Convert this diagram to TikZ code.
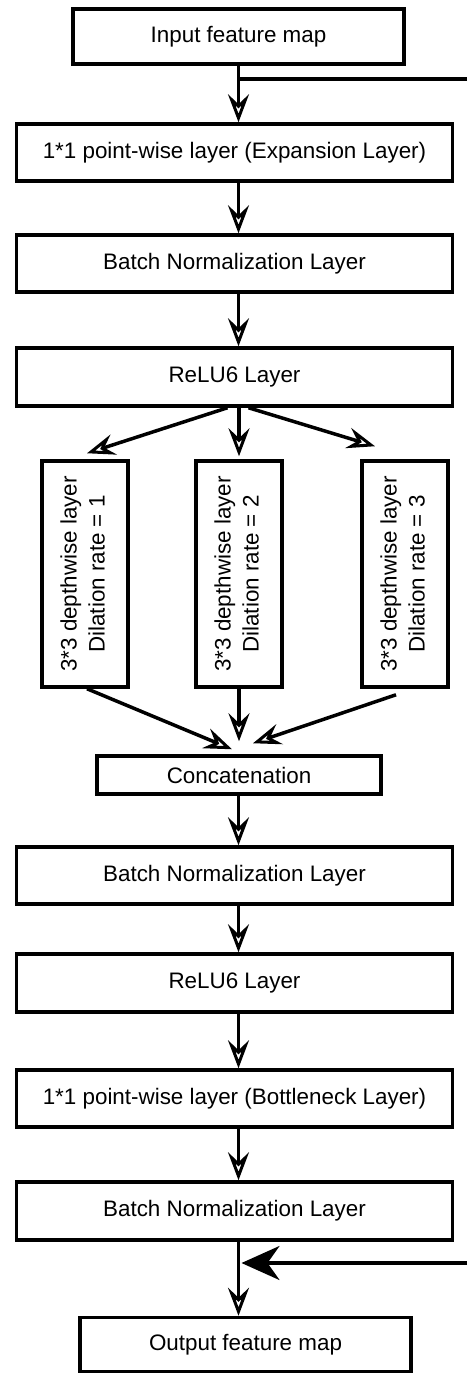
\documentclass[tikz,border=0pt]{standalone}
\usepackage{fontspec}
\setmainfont{Liberation Sans}
\usetikzlibrary{arrows.meta}

\tikzset{
    layer_box/.style={draw, line width=3.5pt, minimum height=55pt, inner sep=0pt,
        font=\fontsize{22.4}{28}\selectfont},
    branch_box/.style={layer_box, minimum width=86pt, minimum height=226pt},
    flow_arr/.style={line width=3.5pt,
        -{Stealth[open, length=28pt, width=21pt, inset=10pt, line width=3pt]}},
    skip_arr/.style={line width=3.5pt,
        -{Stealth[length=38pt, width=34pt, inset=12pt]}}
}

\begin{document}
\begin{tikzpicture}[x=1pt, y=1pt]

    \useasboundingbox (0,0) rectangle (467,-1374);

    % Input and first layers
    \node[layer_box, minimum width=331pt] (in_box) at (238.5,-36.5) {Input feature map};
    \node[layer_box, minimum width=436pt, minimum height=57pt] (exp_box) at (234.5,-152.5)
        {1*1 point-wise layer (Expansion Layer)};
    \node[layer_box, minimum width=436pt, minimum height=57pt] (bn1_box) at (234.5,-263.5)
        {Batch Normalization Layer};
    \node[layer_box, minimum width=436pt, minimum height=58pt] (relu1_box) at (234.5,-377)
        {ReLU6 Layer};

    % Depthwise branches
    \node[branch_box] (dw1_box) at (85,-574) {\rotatebox{90}{\begin{tabular}{c}3*3 depthwise layer\\Dilation rate = 1\end{tabular}}};
    \node[branch_box] (dw2_box) at (239,-574) {\rotatebox{90}{\begin{tabular}{c}3*3 depthwise layer\\Dilation rate = 2\end{tabular}}};
    \node[branch_box] (dw3_box) at (405,-574) {\rotatebox{90}{\begin{tabular}{c}3*3 depthwise layer\\Dilation rate = 3\end{tabular}}};

    % Concatenation and remaining layers
    \node[layer_box, minimum width=284pt, minimum height=38pt] (cat_box) at (239,-775) {Concatenation};
    \node[layer_box, minimum width=436pt, minimum height=57pt] (bn2_box) at (234.5,-875.5)
        {Batch Normalization Layer};
    \node[layer_box, minimum width=436pt, minimum height=58pt] (relu2_box) at (234.5,-983)
        {ReLU6 Layer};
    \node[layer_box, minimum width=436pt, minimum height=57pt] (bot_box) at (234.5,-1098.5)
        {1*1 point-wise layer (Bottleneck Layer)};
    \node[layer_box, minimum width=436pt, minimum height=58pt] (bn3_box) at (234.5,-1211)
        {Batch Normalization Layer};
    \node[layer_box, minimum width=331pt, minimum height=54pt] (out_box) at (245.5,-1344.5)
        {Output feature map};

    % Straight flow
    \foreach \a/\b in {in_box/exp_box, exp_box/bn1_box, bn1_box/relu1_box,
                       cat_box/bn2_box, bn2_box/relu2_box, relu2_box/bot_box,
                       bot_box/bn3_box, bn3_box/out_box}
        \draw[flow_arr] (\a.south -| in_box) -- (\b.north -| in_box);

    % Split into branches
    \draw[flow_arr] ([xshift=-7pt]relu1_box.south) -- ([xshift=2pt,yshift=6pt]dw1_box.north);
    \draw[flow_arr] (relu1_box.south -| dw2_box) -- ([yshift=3pt]dw2_box.north);
    \draw[flow_arr] ([xshift=14pt]relu1_box.south) -- ([xshift=-30pt,yshift=13pt]dw3_box.north);

    % Merge into concatenation
    \draw[flow_arr] ([xshift=2pt]dw1_box.south) -- ([xshift=-7pt,yshift=5pt]cat_box.north);
    \draw[flow_arr] (dw2_box.south) -- ([yshift=13pt]cat_box.north);
    \draw[flow_arr] ([xshift=-9pt,yshift=-6pt]dw3_box.south) -- ([xshift=14pt,yshift=11pt]cat_box.north);

    % Skip connection
    \coordinate (skip_in) at (467,-79);
    \coordinate (skip_out) at (467,-1263);
    \draw[line width=3.5pt] (skip_in) -- (skip_in -| in_box);
    \draw[skip_arr, shorten >=3pt] (skip_out) -- (skip_out -| in_box);

\end{tikzpicture}
\end{document}
